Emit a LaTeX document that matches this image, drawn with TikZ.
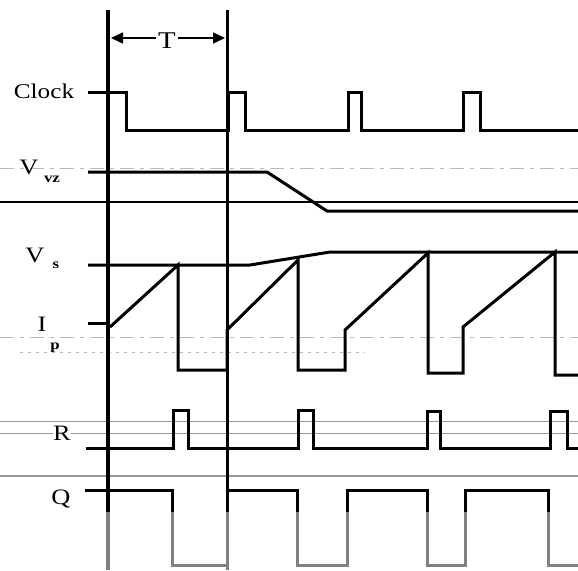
\documentclass[tikz,border=0pt]{standalone}
\usepackage{fontspec}
\setmainfont{Liberation Serif}
\newfontfamily\labfont[FakeStretch=1.2]{Liberation Serif}
\usetikzlibrary{arrows.meta}
\tikzset{
  sig/.style={line width=3pt, line join=miter, line cap=butt},
  marker/.style={line width=3.5pt},
  faint/.style={gray!55, line width=0.8pt, dash pattern=on 14pt off 6pt on 4pt off 6pt},
  guide/.style={gray!80, line width=1pt},
  lab/.style={font=\labfont\fontsize{22}{22}\selectfont, inner sep=0.5pt},
  sub/.style={font=\labfont\fontsize{14}{14}\selectfont\bfseries, inner sep=0.5pt},
  tip/.style={line width=1.6pt, -{Triangle[length=12pt,width=11pt]}},
}
\begin{document}
\begin{tikzpicture}[x=1pt,y=-1pt]
\useasboundingbox (0,0) rectangle (578,570);
% faint guide lines
\draw[faint] (0,168) -- (578,168);
\draw[faint] (0,337) -- (578,337);
\draw[faint, dash pattern=on 3pt off 5pt] (20,352) -- (365,352);
\draw[guide] (0,421) -- (578,421);
\draw[guide] (0,433) -- (578,433);
\draw[guide, line width=1.5pt] (0,476) -- (578,476);
\draw[line width=1.3pt] (0,202) -- (578,202);
% marker lines
\draw[marker] (108,10) -- (108,570);
\draw[marker, line width=3pt] (227,10) -- (227,570);
% period arrow
\node[lab, fill=white, inner sep=2pt, font=\labfont\fontsize{24}{24}\selectfont] (T) at (167,41) {T};
\coordinate (tl) at (111,38);
\coordinate (tr) at (225,38);
\draw[tip] (T.west |- tl) -- (tl);
\draw[tip] (T.east |- tr) -- (tr);
% Clock
\draw[sig] (88,92) -- (126,92) -- (126,130) -- (228,130) -- (228,92) -- (245,92) -- (245,130)
  -- (348,130) -- (348,92) -- (361,92) -- (361,130) -- (463,130) -- (463,92) -- (480,92) -- (480,130) -- (578,130);
% V_vz
\draw[sig] (88,172) -- (267,172) -- (327,211) -- (578,211);
% V_s
\draw[sig] (88,265) -- (250,265) -- (330,252) -- (578,252);
% ramp
\draw[sig] (88,323) -- (108,323);
\draw[sig] (110,327) -- (178,265) -- (178,370) -- (227,370) -- (227,330) -- (298,260) -- (298,370)
  -- (345,370) -- (345,330) -- (428,253) -- (428,373) -- (463,373) -- (463,327) -- (555,252) -- (555,375) -- (578,375);
% R
\draw[sig] (86,448) -- (173,448) -- (173,410) -- (188,410) -- (188,448) -- (298,448) -- (298,410) -- (313,410)
  -- (313,448) -- (427,448) -- (427,411) -- (440,411) -- (440,448) -- (550,448) -- (550,411) -- (567,411) -- (567,448) -- (578,448);
% Q
\draw[sig] (85,490) -- (172,490) -- (172,565) -- (227,565) -- (227,490) -- (297,490) -- (297,565) -- (347,565)
  -- (347,490) -- (427,490) -- (427,565) -- (465,565) -- (465,490) -- (548,490) -- (548,565) -- (578,565);
% faded lower part
\fill[white, opacity=0.5] (0,512) rectangle (578,570);
% labels
\node[lab, font=\labfont\fontsize{21}{21}\selectfont] (clock) at (44,91) {Clock};
\node[lab] (vvz) at (29,167) {V};
\node[sub] (vvzs) at (52,179) {vz};
\node[lab] (vs) at (35,255) {V};
\node[sub] (vss) at (56,265) {s};
\node[lab] (ip) at (42,324) {I};
\node[sub] (ips) at (55,348) {p};
\node[lab, fill=white] (r) at (62,433) {R};
\node[lab] (q) at (61,499) {Q};
\end{tikzpicture}
\end{document}
